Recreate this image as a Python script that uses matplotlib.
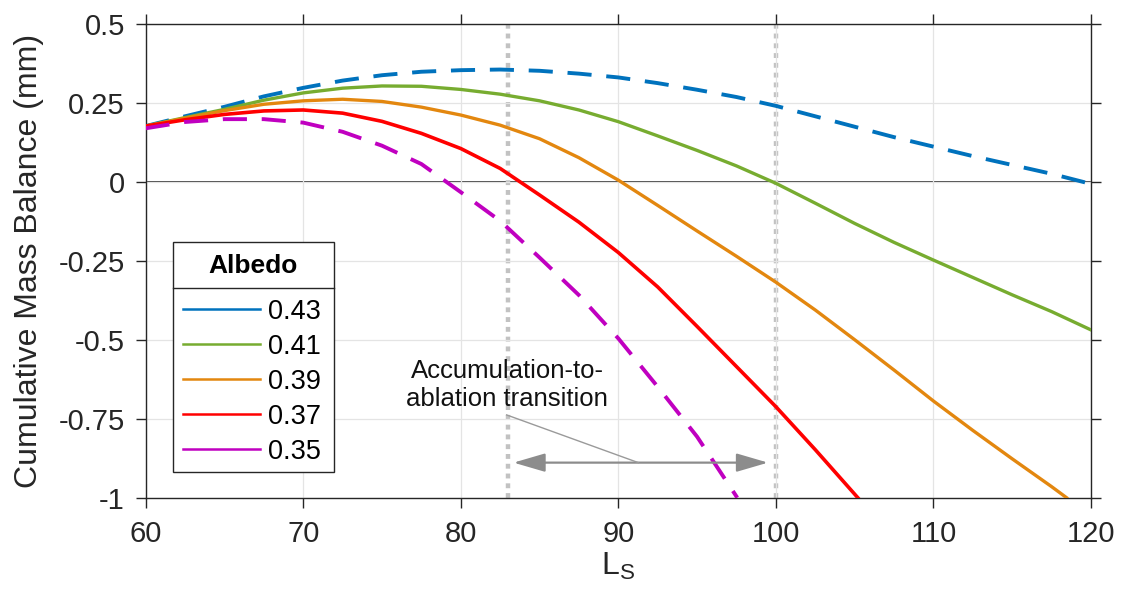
import matplotlib.pyplot as plt
from matplotlib.lines import Line2D
from matplotlib.patches import Rectangle

plt.rcParams['font.family'] = ['Liberation Sans', 'DejaVu Sans']

# cumulative mass balance (mm), one list per albedo
ls_043 = [60, 62.5, 65, 67.5, 70, 72.5, 75, 77.5, 80, 82.5, 85, 87.5, 90, 92.5, 95,
          97.5, 100, 102.5, 105, 107.5, 110, 112.5, 115, 117.5, 120]
mb_043 = [0.176, 0.207, 0.237, 0.270, 0.297, 0.320, 0.337, 0.348, 0.353, 0.355, 0.351,
          0.342, 0.330, 0.312, 0.291, 0.268, 0.240, 0.207, 0.174, 0.141, 0.111, 0.081,
          0.053, 0.025, -0.007]

ls_041 = [60, 62.5, 65, 67.5, 70, 72.5, 75, 77.5, 80, 82.5, 85, 87.5, 90, 92.5, 95,
          97.5, 100, 102.5, 105, 107.5, 110, 112.5, 115, 117.5, 120]
mb_041 = [0.176, 0.203, 0.229, 0.258, 0.281, 0.296, 0.303, 0.302, 0.292, 0.277, 0.256,
          0.227, 0.190, 0.145, 0.099, 0.050, -0.005, -0.068, -0.132, -0.192, -0.248,
          -0.303, -0.358, -0.411, -0.469]

ls_039 = [60, 62.5, 65, 67.5, 70, 72.5, 75, 77.5, 80, 82.5, 85, 87.5, 90, 92.5, 95,
          97.5, 100, 102.5, 105, 107.5, 110, 112.5, 115, 117.5, 118.45]
mb_039 = [0.176, 0.201, 0.225, 0.245, 0.256, 0.261, 0.254, 0.236, 0.211, 0.179, 0.136,
          0.076, 0.005, -0.075, -0.156, -0.236, -0.318, -0.406, -0.500, -0.596, -0.694,
          -0.787, -0.877, -0.965, -1.0]

ls_037 = [60, 62.5, 65, 67.5, 70, 72.5, 75, 77.5, 80, 82.5, 85, 87.5, 90, 92.5, 95,
          97.5, 100, 102.5, 105.2]
mb_037 = [0.176, 0.196, 0.213, 0.224, 0.227, 0.217, 0.191, 0.153, 0.105, 0.042, -0.042,
          -0.128, -0.224, -0.333, -0.458, -0.585, -0.712, -0.848, -1.0]

ls_035 = [60, 62.5, 65, 67.5, 70, 72.5, 75, 77.5, 80, 82.5, 85, 87.5, 90, 92.5, 95,
          97.55]
mb_035 = [0.169, 0.189, 0.198, 0.198, 0.187, 0.158, 0.114, 0.056, -0.033, -0.124, -0.240,
          -0.359, -0.496, -0.649, -0.807, -1.0]

albedo_labels = ['0.43', '0.41', '0.39', '0.37', '0.35']
colors = ['#0072BD', '#77AC30', '#E3870F', '#FF0000', '#C000C0']

transition_ls = [83, 100]

fig = plt.figure(figsize=(11.23, 6.08), dpi=100)
ax = fig.add_axes([0.1297, 0.1814, 0.8418, 0.7796])

ax.grid(True, color='#e4e4e4', linewidth=0.9, zorder=0)
ax.axhline(0, color='#262626', linewidth=1.2, zorder=1)
for xv in transition_ls:
    ax.axvline(xv, color='#c2c2c2', linewidth=3.2, dashes=(1.1, 1.1), zorder=1)

ax.plot(ls_043, mb_043, color=colors[0], linewidth=2.8, dashes=(6.2, 3.8), zorder=3)
ax.plot(ls_041, mb_041, color=colors[1], linewidth=2.4, solid_joinstyle='round', zorder=3)
ax.plot(ls_039, mb_039, color=colors[2], linewidth=2.4, solid_joinstyle='round', zorder=3)
ax.plot(ls_037, mb_037, color=colors[3], linewidth=2.6, solid_joinstyle='round', zorder=3)
ax.plot(ls_035, mb_035, color=colors[4], linewidth=2.8, dashes=(6.2, 3.8), zorder=3)

# double arrow + annotation
ax.annotate('', xy=(83.35, -0.889), xytext=(99.5, -0.889),
            arrowprops=dict(arrowstyle='<|-|>,head_length=1.3,head_width=0.38',
                            color='#8c8c8c', lw=1.6, mutation_scale=15,
                            shrinkA=0, shrinkB=0), zorder=4)
ax.plot([82.91, 91.27], [-0.738, -0.889], color='#9a9a9a', linewidth=1.0, zorder=4)
ax.text(82.96, -0.643, 'Accumulation-to-\nablation transition', ha='center', va='center',
        fontsize=18.5, linespacing=1.18, color='#111111', zorder=5)

ax.set_xlim(60, 120)
ax.set_ylim(-1, 0.5)
ax.set_xticks([60, 70, 80, 90, 100, 110, 120])
ax.set_yticks([-1, -0.75, -0.5, -0.25, 0, 0.25, 0.5])
ax.set_yticklabels(['-1', '-0.75', '-0.5', '-0.25', '0', '0.25', '0.5'])
ax.tick_params(direction='out', length=7, width=1, colors='#262626', labelsize=21,
               top=True, right=True, labeltop=False, labelright=False)
ax.tick_params(axis='x', pad=9)
ax.tick_params(axis='y', pad=8)
for sp in ax.spines.values():
    sp.set_color('#262626')
    sp.set_linewidth(1.0)

ax.set_xlabel('L$_\\mathregular{S}$', fontsize=23, color='#262626', labelpad=2)
ax.set_ylabel('Cumulative Mass Balance (mm)', fontsize=23, color='#262626')
ax.yaxis.set_label_coords(-0.108, 0.5)

# legend drawn by hand (MATLAB style, title box with separator, solid handles)
lx0, lx1, ly0, ly1 = 0.0286, 0.1992, 0.0549, 0.540
ax.add_patch(Rectangle((lx0, ly0), lx1 - lx0, ly1 - ly0, transform=ax.transAxes,
                       facecolor='white', edgecolor='#262626', linewidth=1.0, zorder=6))
ax.add_line(Line2D([lx0, lx1], [0.443, 0.443], transform=ax.transAxes,
                   color='#262626', linewidth=1.0, zorder=7))
ax.text((lx0 + lx1) / 2, 0.489, 'Albedo', transform=ax.transAxes, ha='center', va='center',
        fontsize=19, fontweight='bold', color='black', zorder=7)
for i, (lab, c) in enumerate(zip(albedo_labels, colors)):
    yy = 0.398 - i * 0.0738
    ax.add_line(Line2D([0.0391, 0.1209], [yy, yy], transform=ax.transAxes,
                       color=c, linewidth=1.8, zorder=7))
    ax.text(0.1297, yy, lab, transform=ax.transAxes, ha='left', va='center_baseline',
            fontsize=19.5, color='black', zorder=7)

fig.savefig('out.png', dpi=100)
